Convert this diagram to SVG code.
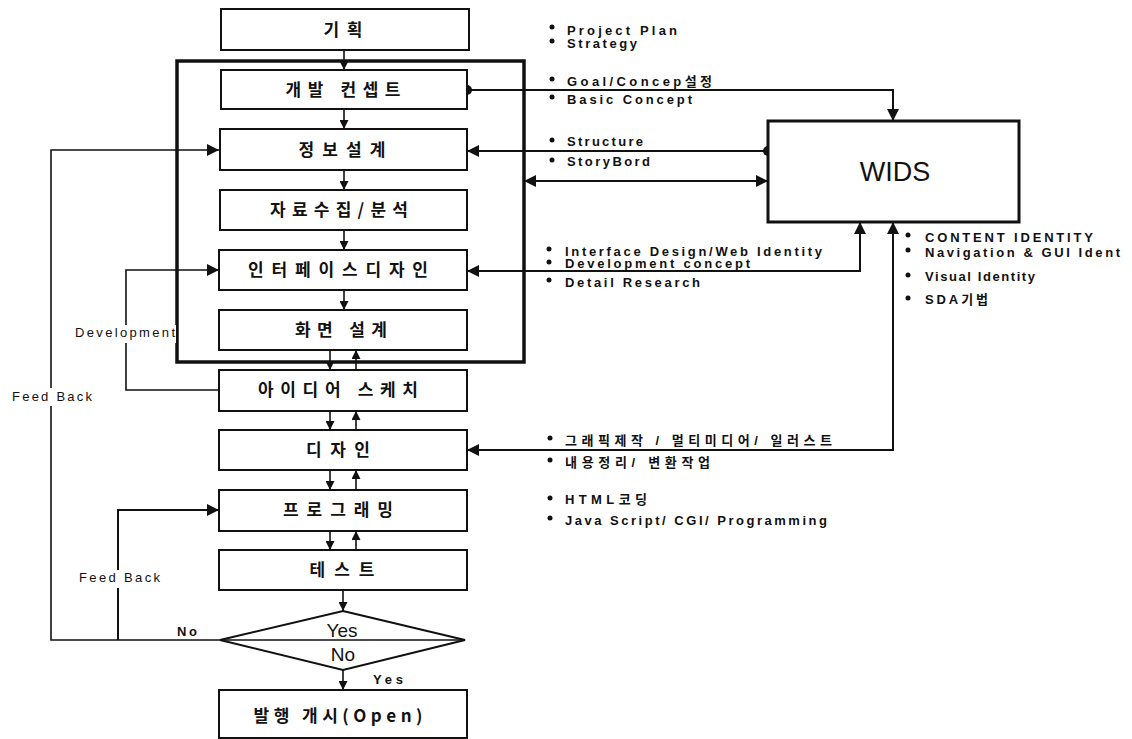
<svg xmlns="http://www.w3.org/2000/svg" width="1132" height="739" viewBox="0 0 1132 739">
<style>
.box{fill:#fff;stroke:#111;stroke-width:2}
.frame{fill:none;stroke:#111;stroke-width:3.5}
.wids{fill:#fff;stroke:#111;stroke-width:3}
.ln{fill:none;stroke:#111;stroke-width:1.6}
.lnb{fill:none;stroke:#111;stroke-width:2}
.kr{font-family:"Noto Sans CJK KR","Liberation Sans",sans-serif;font-size:17px;font-weight:bold;fill:#111;text-anchor:middle}
.lb{font-family:"Liberation Sans","Noto Sans CJK KR",sans-serif;font-size:13px;font-weight:bold;fill:#111}
.sm{font-family:"Liberation Sans","Noto Sans CJK KR",sans-serif;font-size:13px;fill:#111}
.big{font-family:"Liberation Sans",sans-serif;font-size:19px;fill:#111;text-anchor:middle}
.dot{fill:#111}
</style>
<defs>
<marker id="ah" viewBox="0 0 10 10" refX="10" refY="5" markerWidth="14" markerHeight="12" markerUnits="userSpaceOnUse" orient="auto"><path d="M0,0 L10,5 L0,10 z" fill="#111"/></marker>
<marker id="ahs" viewBox="0 0 10 10" refX="10" refY="5" markerWidth="9" markerHeight="9" markerUnits="userSpaceOnUse" orient="auto"><path d="M0,0 L10,5 L0,10 z" fill="#111"/></marker>
<marker id="ahst" viewBox="0 0 10 10" refX="0" refY="5" markerWidth="14" markerHeight="12" markerUnits="userSpaceOnUse" orient="auto"><path d="M10,0 L0,5 L10,10 z" fill="#111"/></marker>
</defs>

<rect class="frame" x="177" y="61" width="347" height="301"/>

<g id="connectors">
<line class="ln" x1="344" y1="50" x2="344" y2="70" marker-end="url(#ahs)"/>
<line class="ln" x1="344" y1="109" x2="344" y2="129" marker-end="url(#ahs)"/>
<line class="ln" x1="344" y1="170" x2="344" y2="190" marker-end="url(#ahs)"/>
<line class="ln" x1="344" y1="230" x2="344" y2="250" marker-end="url(#ahs)"/>
<line class="ln" x1="344" y1="290" x2="344" y2="310" marker-end="url(#ahs)"/>
<line class="ln" x1="330" y1="350" x2="330" y2="370" marker-end="url(#ahs)"/>
<line class="ln" x1="356" y1="370" x2="356" y2="350" marker-end="url(#ahs)"/>
<line class="ln" x1="330" y1="411" x2="330" y2="430" marker-end="url(#ahs)"/>
<line class="ln" x1="356" y1="430" x2="356" y2="411" marker-end="url(#ahs)"/>
<line class="ln" x1="330" y1="470" x2="330" y2="490" marker-end="url(#ahs)"/>
<line class="ln" x1="356" y1="490" x2="356" y2="470" marker-end="url(#ahs)"/>
<line class="ln" x1="330" y1="531" x2="330" y2="550" marker-end="url(#ahs)"/>
<line class="ln" x1="356" y1="550" x2="356" y2="531" marker-end="url(#ahs)"/>
<line class="ln" x1="343" y1="590" x2="343" y2="611" marker-end="url(#ahs)"/>
<line class="ln" x1="343" y1="670" x2="343" y2="690" marker-end="url(#ahs)"/>

<path class="ln" d="M220,640 H51 V150 H219" marker-end="url(#ah)"/>
<path class="lnb" d="M118,640 V510 H219" marker-end="url(#ah)"/>
<path class="ln" d="M219,390 H126 V270 H219" marker-end="url(#ah)"/>

<path class="lnb" d="M467,90 H893 V121" marker-end="url(#ah)"/>
<circle class="dot" cx="467" cy="90" r="5"/>
<line class="lnb" x1="768" y1="151" x2="467" y2="151" marker-end="url(#ah)"/>
<circle class="dot" cx="768" cy="151" r="5"/>
<line class="lnb" x1="524" y1="181" x2="768" y2="181" marker-start="url(#ahst)" marker-end="url(#ah)"/>
<path class="lnb" d="M860,222 V271 H467" marker-start="url(#ahst)" marker-end="url(#ah)"/>
<path class="lnb" d="M893,222 V450 H467" marker-start="url(#ahst)" marker-end="url(#ah)"/>
</g>

<g id="n-gihoek"><rect class="box" x="221" y="9" width="248" height="41"/><text class="kr" x="343" y="36" textLength="39">기 획</text></g>
<g id="n-concept"><rect class="box" x="221" y="70" width="246" height="39"/><text class="kr" x="343" y="96" textLength="115">개발 컨셉트</text></g>
<g id="n-info"><rect class="box" x="220" y="129" width="247" height="41"/><text class="kr" x="342" y="156" textLength="87">정보설계</text></g>
<g id="n-data"><rect class="box" x="220" y="190" width="247" height="40"/><text class="kr" x="339" y="216" textLength="138">자료수집/분석</text></g>
<g id="n-interface"><rect class="box" x="219" y="250" width="248" height="40"/><text class="kr" x="338" y="276" textLength="180">인터페이스디자인</text></g>
<g id="n-screen"><rect class="box" x="219" y="310" width="248" height="40"/><text class="kr" x="341" y="336" textLength="92">화면 설계</text></g>
<g id="n-idea"><rect class="box" x="219" y="370" width="248" height="41"/><text class="kr" x="338" y="396" textLength="160">아이디어 스케치</text></g>
<g id="n-design"><rect class="box" x="219" y="430" width="248" height="40"/><text class="kr" x="338" y="456" textLength="64">디자인</text></g>
<g id="n-prog"><rect class="box" x="219" y="490" width="248" height="41"/><text class="kr" x="338" y="516" textLength="110">프로그래밍</text></g>
<g id="n-test"><rect class="box" x="219" y="550" width="248" height="40"/><text class="kr" x="342" y="576" textLength="65">테스트</text></g>
<g id="n-decision"><polygon class="box" points="343,611 465,640 343,670 220,640"/><line class="ln" x1="220" y1="640" x2="465" y2="640"/><text class="big" x="342" y="637">Yes</text><text class="big" x="343" y="661">No</text></g>
<g id="n-open"><rect class="box" x="219" y="690" width="248" height="48"/><text class="kr" x="338" y="722" textLength="169">발행 개시(Open)</text></g>
<g id="n-wids"><rect class="wids" x="768" y="121" width="251" height="101"/><text x="895" y="181" font-family="Liberation Sans, sans-serif" font-size="27" text-anchor="middle" fill="#111">WIDS</text></g>

<g id="labels">
<rect x="8" y="388" width="88" height="18" fill="#fff"/>
<text class="sm" x="12" y="401" textLength="80">Feed Back</text>
<rect x="72" y="325" width="104" height="18" fill="#fff"/>
<text class="sm" x="75" y="337" textLength="100">Development</text>
<rect x="77" y="570" width="86" height="18" fill="#fff"/>
<text class="sm" x="79" y="582" textLength="81">Feed Back</text>
<text class="lb" x="177" y="636" textLength="20">No</text>
<text class="lb" x="373" y="684" textLength="30">Yes</text>

<circle class="dot" cx="552" cy="27" r="2.5"/><text class="lb" x="567" y="35" textLength="110">Project  Plan</text>
<circle class="dot" cx="552" cy="41" r="2.5"/><text class="lb" x="567" y="48" textLength="70">Strategy</text>
<circle class="dot" cx="552" cy="79" r="2.5"/><text class="lb" x="567" y="86" textLength="145">Goal/Concep설정</text>
<circle class="dot" cx="552" cy="97" r="2.5"/><text class="lb" x="567" y="104" textLength="125">Basic Concept</text>
<circle class="dot" cx="552" cy="140" r="2.5"/><text class="lb" x="567" y="146" textLength="76">Structure</text>
<circle class="dot" cx="552" cy="160" r="2.5"/><text class="lb" x="567" y="166" textLength="83">StoryBord</text>
<circle class="dot" cx="549" cy="249" r="2.5"/><text class="lb" x="565" y="256" textLength="257">Interface Design/Web Identity</text>
<circle class="dot" cx="549" cy="262" r="2.5"/><text class="lb" x="565" y="268" textLength="185">Development concept</text>
<circle class="dot" cx="549" cy="280" r="2.5"/><text class="lb" x="565" y="287" textLength="135">Detail Research</text>
<circle class="dot" cx="908" cy="235" r="2.5"/><text class="lb" x="925" y="242" textLength="168">CONTENT IDENTITY</text>
<circle class="dot" cx="908" cy="250" r="2.5"/><text class="lb" x="925" y="257" textLength="195">Navigation &amp; GUI Ident</text>
<circle class="dot" cx="908" cy="275" r="2.5"/><text class="lb" x="925" y="281" textLength="110">Visual Identity</text>
<circle class="dot" cx="908" cy="298" r="2.5"/><text class="lb" x="925" y="304" textLength="63">SDA기법</text>
<circle class="dot" cx="550" cy="438" r="2.5"/><text class="lb" x="565" y="445" textLength="267">그래픽제작 / 멀티미디어/ 일러스트</text>
<circle class="dot" cx="550" cy="460" r="2.5"/><text class="lb" x="565" y="467" textLength="145">내용정리/ 변환작업</text>
<circle class="dot" cx="550" cy="498" r="2.5"/><text class="lb" x="565" y="504" textLength="82">HTML코딩</text>
<circle class="dot" cx="550" cy="518" r="2.5"/><text class="lb" x="565" y="525" textLength="262">Java Script/ CGI/ Programming</text>
</g>
</svg>
